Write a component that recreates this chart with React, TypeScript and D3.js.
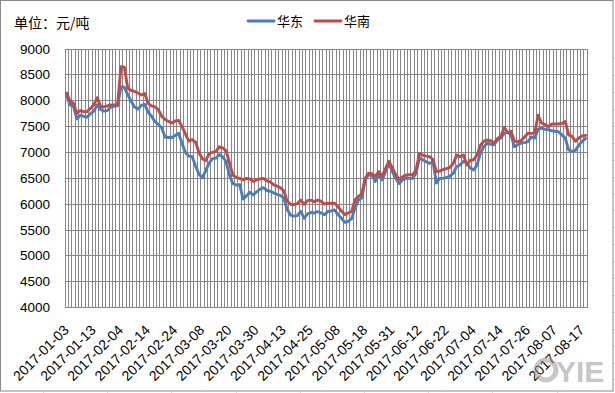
import React from "react";
import * as d3 from "d3";

const seriesNames = ["华东", "华南"];
const seriesColors = ["#4A7EBB", "#BE4B48"];

const eastValues = [
  8100, 7920, 7890, 7650, 7720, 7700, 7680, 7750, 7800, 7920,
  7830, 7800, 7810, 7880, 7890, 7900, 8270, 8260, 8120, 7990,
  7880, 7840, 7910, 7930, 7780, 7700, 7600, 7540, 7480, 7300,
  7290, 7290, 7330, 7370, 7180, 7000, 6930, 6920, 6740, 6580,
  6510, 6650, 6800, 6880, 6890, 6960, 6920, 6820, 6560, 6400,
  6370, 6380, 6100, 6160, 6230, 6180, 6240, 6290, 6320, 6270,
  6250, 6220, 6190, 6170, 6120, 5900, 5790, 5770, 5780, 5860,
  5730, 5810, 5840, 5830, 5860, 5830, 5800, 5860, 5870, 5890,
  5800, 5730, 5650, 5670, 5720, 5920, 6080, 6120, 6470, 6570,
  6560, 6440, 6570, 6470, 6630, 6790, 6630, 6500, 6400, 6470,
  6500, 6500, 6500, 6600, 6890, 6860, 6820, 6790, 6820, 6410,
  6500, 6500, 6520, 6540, 6600, 6730, 6760, 6830, 6790, 6700,
  6660, 6760, 6990, 7110, 7180, 7160, 7150, 7240, 7280, 7370,
  7400, 7340, 7110, 7150, 7180, 7190, 7210, 7300, 7280, 7450,
  7470, 7450, 7440, 7420, 7410, 7400, 7340, 7280, 7050, 7020,
  7040, 7140, 7220, 7270,
];

const southValues = [
  8150, 7990, 7950, 7760, 7810, 7790, 7790, 7850, 7920, 8060,
  7890, 7880, 7900, 7920, 7920, 7920, 8660, 8650, 8240, 8200,
  8180, 8150, 8110, 8140, 7950, 7900, 7880, 7830, 7700, 7640,
  7600, 7570, 7610, 7620, 7500, 7360, 7220, 7250, 7200, 7000,
  6880, 6840, 6980, 7000, 7020, 7110, 7090, 7030, 6800, 6560,
  6520, 6500, 6470, 6500, 6490, 6440, 6470, 6490, 6500, 6450,
  6430, 6380, 6350, 6320, 6260, 6060, 6000, 5990, 6010, 6080,
  6000, 6070, 6080, 6050, 6080, 6060, 6000, 6020, 6020, 6020,
  5950, 5870, 5800, 5830, 5860, 6080, 6150, 6200, 6500, 6600,
  6590, 6540, 6630, 6540, 6690, 6830, 6700, 6570, 6480, 6530,
  6560, 6570, 6570, 6660, 6980, 6950, 6930, 6920, 6860, 6630,
  6640, 6670, 6690, 6710, 6790, 6950, 6920, 6950, 6760, 6850,
  6860, 6950, 7140, 7220, 7240, 7230, 7180, 7270, 7310, 7490,
  7380, 7410, 7220, 7210, 7230, 7300, 7370, 7370, 7380, 7720,
  7570, 7540, 7500, 7550, 7550, 7550, 7560, 7600, 7340, 7310,
  7220, 7280, 7320, 7330,
];

const dateLabels = [
  "2017-01-03", "2017-01-13", "2017-02-04", "2017-02-14", "2017-02-24",
  "2017-03-08", "2017-03-20", "2017-03-30", "2017-04-13", "2017-04-25",
  "2017-05-08", "2017-05-18", "2017-05-31", "2017-06-12", "2017-06-22",
  "2017-07-04", "2017-07-14", "2017-07-26", "2017-08-07", "2017-08-17",
];
const labelStep = 8;

const yTicks = [4000, 4500, 5000, 5500, 6000, 6500, 7000, 7500, 8000, 8500, 9000];
const unitTitle = "单位：元/吨";

export default function App() {
  const W = 615;
  const H = 393;
  const left = 65;
  const right = 587.3;
  const top = 49;
  const bottom = 307.7;
  const n = eastValues.length;

  const x = d3.scaleLinear().domain([0, n]).range([left, right]);
  const y = d3.scaleLinear().domain([4000, 9000]).range([bottom, top]);

  const line = d3
    .line<number>()
    .x((_, i) => x(i + 0.5))
    .y((d) => y(d));

  const gridColor = "#878787";
  const font = "'Liberation Sans', Arial, sans-serif";
  const cjkFont = "'Noto Sans CJK SC', 'Liberation Sans', sans-serif";

  const vLines = d3.range(0, n + 1);
  const series = [eastValues, southValues];

  const cellCols = d3.range(43, 615, 64.2);
  const cellRows = d3.range(58.3, 393, 16.9);

  return (
    <svg
      width={W}
      height={H}
      style={{ position: "absolute", left: 0, top: 0, background: "#fff" }}
    >
      <rect x={0} y={0} width={W} height={H} fill="#fff" />
      {cellCols.map((cx, k) => (
        <g key={"cc" + k} stroke="#d9d9d9" strokeWidth={1}>
          <line x1={Math.round(cx) + 0.5} x2={Math.round(cx) + 0.5} y1={0} y2={1} />
          <line x1={Math.round(cx) + 0.5} x2={Math.round(cx) + 0.5} y1={391.5} y2={393} />
        </g>
      ))}
      {cellRows.map((ry, k) => (
        <line
          key={"cr" + k}
          x1={613.5}
          x2={615}
          y1={Math.round(ry) + 0.5}
          y2={Math.round(ry) + 0.5}
          stroke="#d9d9d9"
        />
      ))}
      <rect x={0.5} y={0.5} width={612.5} height={390.5} fill="none" stroke="#888" strokeWidth={1} />

      <g stroke={gridColor} strokeWidth={1} shapeRendering="crispEdges">
        {yTicks.map((t) => (
          <line key={"h" + t} x1={left} x2={right} y1={y(t)} y2={y(t)} />
        ))}
        {vLines.map((k) => (
          <line key={"v" + k} x1={x(k)} x2={x(k)} y1={top} y2={bottom} />
        ))}
      </g>

      {yTicks.map((t) => (
        <text
          key={"yl" + t}
          x={50}
          y={y(t)}
          textAnchor="end"
          dominantBaseline="central"
          fontFamily={font}
          fontSize={13.5}
          fill="#000"
        >
          {t}
        </text>
      ))}

      {dateLabels.map((lab, k) => {
        const px = x(k * labelStep + 0.5) + 3;
        const py = 331;
        return (
          <text
            key={"xl" + k}
            transform={`translate(${px},${py}) rotate(-45)`}
            textAnchor="end"
            fontFamily={font}
            fontSize={14}
            fill="#000"
          >
            {lab}
          </text>
        );
      })}

      {series.map((vals, s) => (
        <path
          key={"s" + s}
          d={line(vals) || ""}
          fill="none"
          stroke={seriesColors[s]}
          strokeWidth={2.9}
          strokeLinejoin="round"
          strokeLinecap="round"
        />
      ))}

      <text x={14} y={28} fontFamily={cjkFont} fontSize={14} fill="#000">
        {unitTitle}
      </text>

      {seriesNames.map((name, s) => {
        const lx = 248 + s * 67;
        return (
          <g key={"lg" + s}>
            <line x1={lx} x2={lx + 26} y1={21} y2={21} stroke={seriesColors[s]} strokeWidth={2.9} strokeLinecap="round" />
            <text x={lx + 29} y={26} fontFamily={cjkFont} fontSize={13} fill="#000">
              {name}
            </text>
          </g>
        );
      })}

      <g opacity={0.55} fill="#9a9a9a">
        <circle cx={546} cy={370} r={10} fill="none" stroke="#9a9a9a" strokeWidth={5} />
        <text x={556} y={382} fontFamily={font} fontWeight="bold" fontSize={30}>
          YIE
        </text>
      </g>
    </svg>
  );
}
